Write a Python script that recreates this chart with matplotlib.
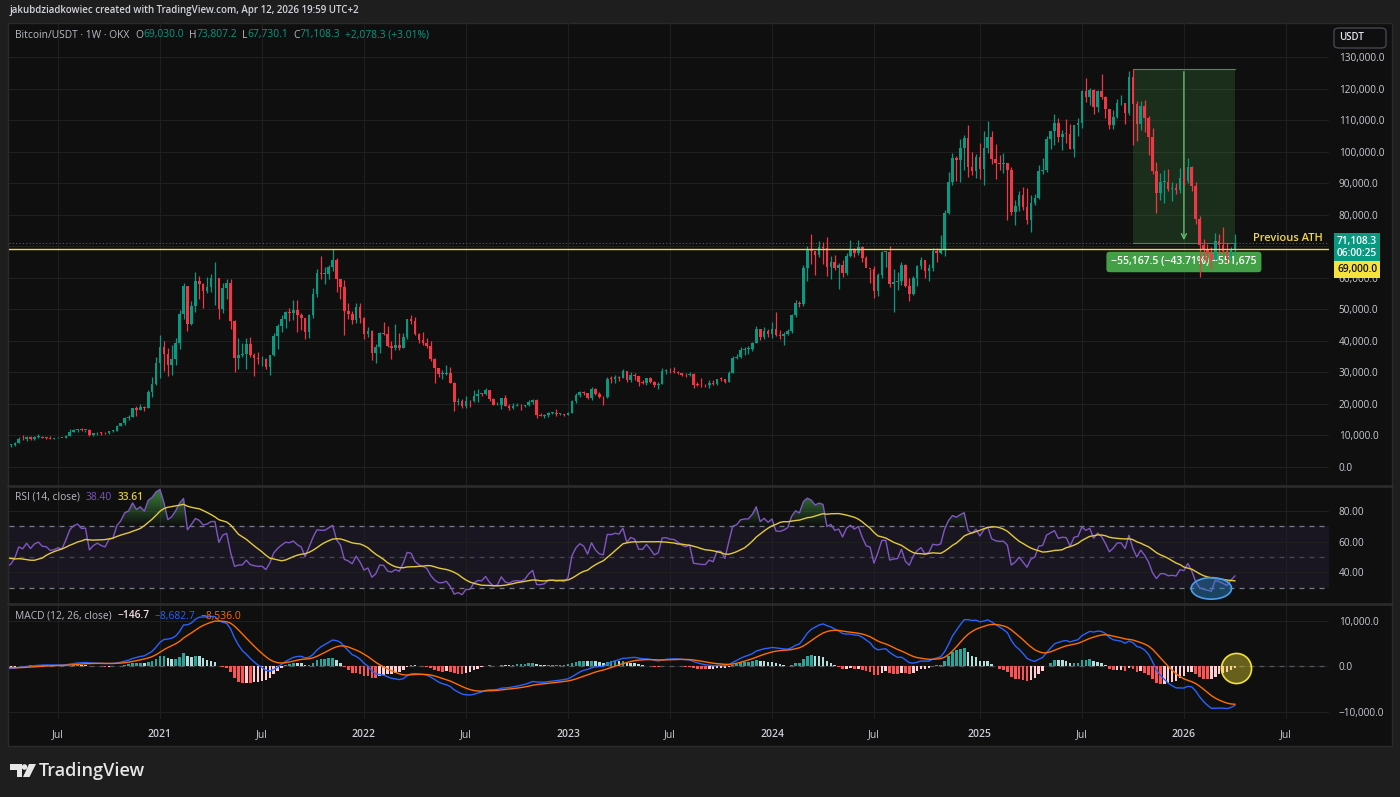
import numpy as np
import pandas as pd
import matplotlib
matplotlib.use("Agg")
import matplotlib.pyplot as plt
import matplotlib.dates as mdates
from matplotlib.patches import Rectangle, FancyBboxPatch, Ellipse, Polygon
from matplotlib.lines import Line2D
from matplotlib.path import Path

plt.rcParams["font.family"] = ["Open Sans", "DejaVu Sans"]

W, H = 1400, 797

# ── Weekly BTC/USDT candles (OKX), prices in thousands of USDT ────────────────
first_week = "2020-04-06"
first_open_k = 6.77

close_2020 = [6.91, 7.12, 7.70, 8.90, 8.72, 9.38, 8.91, 9.45, 9.67, 9.33, 9.30, 9.01, 9.07,
              9.24, 9.16, 9.94, 11.10, 11.68, 11.91, 11.65, 11.70, 10.25, 10.68, 10.93, 10.77,
              10.67, 11.38, 11.50, 13.03, 13.80, 15.48, 15.98, 18.70, 18.18, 19.15, 18.80,
              23.86, 26.25, 33.00]
high_2020 = [7.47, 7.30, 7.78, 9.46, 10.07, 9.93, 9.84, 9.74, 10.43, 9.98, 9.58, 9.80, 9.30,
             9.48, 9.35, 10.05, 12.13, 11.90, 12.10, 12.47, 11.80, 12.09, 10.80, 11.18, 10.95,
             10.95, 11.50, 11.72, 13.35, 14.10, 15.97, 16.48, 18.83, 19.48, 19.92, 19.43,
             24.30, 28.40, 34.80]
low_2020 = [6.77, 6.46, 6.77, 7.66, 8.53, 8.20, 8.63, 8.63, 9.27, 9.20, 9.00, 8.83, 8.89,
            9.05, 9.04, 9.15, 9.92, 11.00, 11.10, 11.38, 11.10, 9.88, 9.88, 10.20, 10.14,
            10.45, 10.52, 11.23, 11.40, 12.90, 13.20, 14.83, 15.96, 16.20, 18.20, 17.60,
            18.80, 22.30, 26.00]

close_2021 = [38.15, 35.83, 32.27, 34.28, 39.25, 48.58, 57.40, 45.20, 50.97, 59.00, 58.10, 55.85,
              57.05, 59.80, 60.00, 50.00, 56.60, 58.25, 46.40, 34.70, 35.65, 35.80, 39.10, 35.50,
              34.70, 34.10, 34.25, 31.80, 35.40, 41.50, 44.60, 47.00, 49.00, 48.80, 49.90, 48.30,
              47.30, 42.80, 48.20, 54.90, 61.50, 61.30, 61.30, 63.30, 65.50, 59.70, 57.20, 49.40,
              48.40, 46.70, 50.80, 47.30]
high_2021 = [41.95, 40.10, 37.85, 38.55, 40.95, 49.70, 58.35, 57.53, 52.65, 61.80, 60.60, 58.40,
             60.20, 61.20, 64.85, 57.45, 58.45, 59.60, 59.60, 46.65, 40.80, 39.45, 40.90, 41.30,
             36.00, 36.60, 35.10, 34.65, 35.40, 42.60, 45.30, 48.15, 49.40, 50.50, 52.90, 52.80,
             48.84, 47.30, 48.40, 56.60, 62.90, 67.00, 63.30, 64.20, 69.00, 66.40, 59.50, 59.20,
             51.95, 49.50, 51.90, 52.10]
low_2021 = [28.13, 30.42, 28.85, 29.25, 32.30, 37.40, 47.00, 43.00, 45.00, 49.30, 53.30, 50.40,
            55.15, 55.50, 51.50, 47.00, 48.80, 53.20, 43.80, 30.00, 31.20, 34.80, 31.00, 34.80,
            28.80, 32.70, 32.10, 31.05, 29.30, 35.25, 37.33, 42.80, 43.98, 46.40, 46.50, 42.80,
            43.40, 40.55, 41.00, 47.20, 53.90, 59.50, 58.00, 59.50, 62.30, 55.60, 53.30, 42.00,
            46.80, 45.50, 45.55, 45.70]

close_2022 = [42.05, 43.10, 36.28, 37.90, 42.40, 42.20, 38.40, 37.70, 38.80, 37.80, 41.30, 46.80,
              46.40, 42.15, 40.40, 39.45, 38.45, 34.30, 31.30, 29.45, 29.45, 29.90, 26.60, 20.55,
              21.00, 19.30, 20.85, 20.80, 22.58, 23.30, 23.17, 24.30, 21.50, 19.55, 19.80, 21.80,
              19.40, 18.80, 19.30, 19.40, 19.20, 19.57, 20.63, 21.30, 16.33, 16.28, 16.45, 17.10,
              17.10, 16.78, 16.84, 16.61]
high_2022 = [47.55, 44.45, 43.50, 38.90, 42.65, 45.85, 44.75, 39.85, 45.40, 42.60, 42.35, 46.90,
             48.20, 47.50, 42.45, 42.95, 40.80, 40.00, 34.45, 31.35, 30.60, 32.40, 31.70, 26.90,
             21.85, 21.50, 22.50, 21.30, 24.28, 24.67, 23.60, 25.20, 24.45, 21.80, 20.55, 21.86,
             22.80, 19.95, 20.40, 20.45, 19.95, 19.70, 21.10, 21.45, 21.47, 17.20, 16.80, 17.40,
             17.40, 18.40, 17.00, 16.95]
low_2022 = [40.50, 41.25, 34.00, 32.90, 36.25, 41.70, 38.00, 34.30, 37.20, 37.15, 37.60, 40.50,
            45.20, 42.00, 39.20, 38.60, 37.70, 33.70, 26.70, 28.65, 28.00, 29.30, 26.50, 17.60,
            19.60, 18.60, 18.75, 18.90, 20.75, 20.70, 22.40, 22.70, 20.80, 19.55, 19.60, 18.50,
            19.30, 18.15, 18.50, 19.20, 18.20, 18.95, 19.25, 20.05, 15.60, 16.25, 15.50, 16.00,
            16.90, 16.30, 16.57, 16.30]

close_2023 = [17.13, 20.88, 22.70, 23.75, 23.33, 21.80, 24.60, 23.15, 22.30, 22.10, 28.00, 27.95,
              28.45, 28.30, 30.30, 27.60, 29.25, 28.90, 26.80, 26.75, 28.10, 27.10, 25.90, 26.35,
              30.46, 30.58, 30.30, 30.25, 29.80, 29.30, 29.05, 29.40, 26.10, 26.00, 25.87, 25.85,
              26.53, 26.25, 27.95, 27.90, 26.85, 29.95, 34.50, 35.00, 37.05, 37.35, 37.45, 39.45,
              43.80, 41.35, 43.00, 42.30]
high_2023 = [17.40, 21.26, 23.37, 23.95, 24.25, 23.45, 25.25, 25.02, 23.88, 22.60, 28.40, 28.89,
             29.20, 28.75, 31.00, 30.50, 30.00, 29.80, 28.90, 27.60, 28.25, 28.45, 27.30, 26.80,
             31.40, 31.00, 31.40, 31.80, 30.35, 29.95, 29.70, 30.20, 29.70, 26.80, 28.15, 26.30,
             27.50, 27.45, 28.00, 28.60, 27.80, 30.40, 35.25, 35.90, 37.95, 37.95, 38.40, 39.55,
             44.70, 43.40, 44.30, 43.60]
low_2023 = [16.50, 17.10, 20.40, 22.30, 22.70, 21.45, 21.40, 22.80, 21.95, 19.57, 21.90, 26.60,
            26.50, 27.20, 28.10, 27.10, 26.95, 27.70, 25.80, 26.35, 26.10, 26.60, 25.35, 24.80,
            26.25, 29.50, 29.90, 29.95, 29.55, 28.90, 28.60, 28.70, 25.20, 25.80, 25.35, 25.40,
            24.90, 26.00, 26.00, 27.20, 26.55, 26.80, 29.90, 34.10, 34.70, 35.60, 35.75, 36.90,
            39.45, 40.20, 40.50, 41.30]

close_2024 = [43.90, 41.70, 41.60, 42.10, 43.00, 48.30, 52.10, 51.70, 63.10, 68.90, 68.40, 67.20,
              69.65, 69.35, 63.40, 64.90, 63.10, 63.90, 61.50, 66.90, 69.00, 67.80, 69.60, 66.20,
              63.20, 62.70, 55.80, 60.80, 68.20, 68.25, 58.10, 58.70, 58.90, 64.20, 57.30, 54.80,
              60.00, 63.60, 65.60, 62.10, 63.00, 68.40, 68.00, 68.70, 80.40, 90.50, 98.00, 97.20,
              101.10, 104.30, 95.20, 93.70, 98.30]
high_2024 = [45.90, 49.00, 43.55, 42.80, 43.85, 48.60, 52.80, 52.55, 64.00, 70.00, 73.80, 68.10,
             71.75, 71.30, 72.80, 66.90, 67.10, 64.70, 65.50, 67.70, 71.95, 69.50, 71.95, 70.20,
             66.95, 62.90, 63.85, 61.40, 68.50, 68.60, 70.00, 62.70, 61.80, 65.00, 64.50, 59.80,
             60.60, 64.10, 66.45, 65.00, 64.40, 69.40, 69.50, 73.60, 81.50, 93.45, 99.60, 98.70,
             104.00, 105.20, 108.30, 99.95, 99.10]
low_2024 = [40.75, 41.50, 40.65, 38.55, 41.90, 42.55, 47.70, 50.60, 50.90, 59.00, 64.50, 60.75,
            66.50, 64.50, 60.65, 59.60, 62.40, 56.50, 60.20, 60.75, 66.60, 66.60, 67.30, 65.10,
            63.40, 58.40, 53.50, 54.30, 59.90, 63.50, 57.20, 49.00, 56.10, 57.80, 57.20, 52.55,
            54.60, 57.50, 62.70, 59.80, 58.90, 62.30, 65.00, 67.50, 66.80, 80.20, 89.40, 90.80,
            90.50, 94.20, 92.10, 92.50, 91.50]

close_2025 = [94.50, 101.30, 104.70, 97.70, 96.50, 96.10, 96.30, 94.20, 80.70, 82.60, 86.10, 82.40,
              78.40, 83.80, 85.20, 93.70, 94.30, 104.10, 106.50, 109.00, 104.60, 105.70, 105.50,
              100.90, 108.40, 109.20, 119.10, 117.30, 119.50, 114.20, 119.30, 117.40, 113.50,
              108.30, 111.10, 115.30, 115.30, 112.20, 123.50, 115.10, 108.60, 114.50, 110.50,
              104.70, 94.00, 86.80, 90.40, 90.40, 88.20, 88.50, 87.80, 91.50]
high_2025 = [102.70, 106.40, 109.60, 106.40, 102.50, 98.80, 99.50, 96.50, 95.00, 84.70, 87.50, 88.75,
             88.50, 86.10, 86.45, 95.75, 97.90, 104.95, 106.65, 111.90, 110.70, 106.80, 110.40,
             108.90, 108.50, 110.50, 119.50, 123.20, 120.20, 120.00, 119.50, 124.50, 117.60,
             113.40, 113.30, 116.70, 117.90, 115.30, 125.70, 126.20, 115.90, 116.00, 116.40,
             111.20, 107.50, 96.60, 93.10, 94.10, 94.60, 90.30, 90.00, 94.80]
low_2025 = [91.20, 89.30, 99.50, 96.10, 91.20, 94.10, 93.30, 78.20, 80.00, 76.60, 81.15, 81.60,
            77.15, 74.50, 83.10, 85.10, 92.80, 93.40, 100.80, 102.10, 103.10, 100.40, 102.65,
            100.85, 98.20, 105.10, 107.50, 115.75, 114.70, 111.90, 112.65, 116.80, 110.70,
            107.30, 107.30, 110.60, 114.70, 108.60, 111.60, 102.00, 103.50, 107.00, 106.30,
            98.90, 93.00, 80.60, 84.70, 83.80, 87.60, 84.40, 86.50, 86.90]

close_2026 = [90.80, 95.00, 89.00, 78.50, 70.50, 68.80, 67.50, 66.00, 71.80, 70.50, 68.50, 66.50,
              69.03, 71.1083]
high_2026 = [94.80, 97.90, 95.50, 90.50, 79.50, 72.20, 70.80, 69.80, 74.20, 73.80, 76.00, 71.00,
             69.80, 73.8072]
low_2026 = [89.30, 90.00, 87.50, 77.00, 60.10, 65.60, 65.00, 62.80, 65.50, 68.00, 67.50, 64.80,
            65.60, 67.7301]

# weekly closes before the visible range, only used to warm up RSI / MACD
warmup_close_2019 = [3.60, 3.55, 3.55, 3.42, 3.68, 3.62, 3.85, 3.87, 3.95, 4.02, 4.00, 4.14, 5.05,
                     5.07, 5.30, 5.25, 5.75, 7.25, 8.15, 8.75, 8.55, 7.95, 8.85, 10.85, 10.80,
                     11.45, 10.20, 10.55, 9.50, 10.80, 11.30, 10.30, 10.15, 9.60, 10.40, 10.30,
                     10.00, 8.20, 7.85, 8.30, 7.95, 9.25, 9.20, 8.80, 8.50, 7.30, 7.55, 7.50,
                     7.10, 7.25, 7.30, 7.35]
warmup_close_2020 = [8.20, 8.65, 8.60, 9.35, 10.15, 9.90, 9.65, 8.55, 8.05, 5.35, 5.80, 6.25, 6.77]

# drawing on the chart
prev_ath = 69000.0
measure_from = 126200.0
measure_to = 71032.5
measure_start = "2025-10-06"
measure_end = "2026-04-06"
ellipse_center = ("2026-02-23", 29.5)

# ── Colours ──────────────────────────────────────────────────────────────────
BG_OUT = "#1e1e1e"
BG = "#0f0f0f"
GRID = "#1f1f1f"
TXT = "#c9ccd3"
UP = "#089981"
DN = "#f23645"
YEL = "#f0d84a"

close = np.array(close_2020 + close_2021 + close_2022 + close_2023 + close_2024
                 + close_2025 + close_2026) * 1000
high = np.array(high_2020 + high_2021 + high_2022 + high_2023 + high_2024
                + high_2025 + high_2026) * 1000
low = np.array(low_2020 + low_2021 + low_2022 + low_2023 + low_2024
               + low_2025 + low_2026) * 1000
# crypto trades 24/7: each weekly open is the prior weekly close
opn = np.r_[first_open_k * 1000, close[:-1]]
dates = pd.date_range(first_week, periods=len(close), freq="7D")
xd = mdates.date2num(dates)
n = len(close)

# ── Indicators (same definitions TradingView uses) ───────────────────────────
full = pd.Series(np.r_[np.array(warmup_close_2019 + warmup_close_2020) * 1000, close])
delta = full.diff()
gain = delta.clip(lower=0).ewm(alpha=1 / 14, adjust=False).mean()
loss = (-delta.clip(upper=0)).ewm(alpha=1 / 14, adjust=False).mean()
rsi_full = 100 - 100 / (1 + gain / loss)
rsi_ma_full = rsi_full.rolling(14).mean()
macd_full = full.ewm(span=12, adjust=False).mean() - full.ewm(span=26, adjust=False).mean()
sig_full = macd_full.ewm(span=9, adjust=False).mean()
rsi = rsi_full.values[-n:]
rsi_ma = rsi_ma_full.values[-n:]
macd = macd_full.values[-n:]
sig = sig_full.values[-n:]
hist = macd - sig


def fx(px):
    return px / W


def fy(py):
    return 1 - py / H


fig = plt.figure(figsize=(W / 100, H / 100), dpi=100)
fig.patch.set_facecolor(BG_OUT)
fig.add_artist(Rectangle((fx(8), fy(746)), (1392 - 8) / W, (746 - 23) / H,
                         transform=fig.transFigure, facecolor=BG, edgecolor="#2a2a2a",
                         lw=1, zorder=-10))

L, R = 9, 1329
ax_p = fig.add_axes([fx(L), fy(485), (R - L) / W, (485 - 23) / H])
ax_r = fig.add_axes([fx(L), fy(603), (R - L) / W, (603 - 487) / H])
ax_m = fig.add_axes([fx(L), fy(719), (R - L) / W, (719 - 605) / H])

for y in (485.5, 603.5):
    fig.add_artist(Line2D([fx(8), fx(1392)], [fy(y), fy(y)], transform=fig.transFigure,
                          color="#2a2a2a", lw=2))

# x scale: TradingView bar spacing, Jul-2020 bar at px 58, 3.923 px per week
ref = mdates.date2num(pd.Timestamp("2020-07-06"))
ppd = 3.923 / 7
xlim = (ref - (58 - L) / ppd, ref + (R - 58) / ppd)

future = pd.date_range(first_week, "2026-09-30", freq="7D")
tick_weeks = [d for d in future if d.month in (1, 7) and d.day <= 7]
tick_x = mdates.date2num(tick_weeks)
tick_lab = ["Jul" if d.month == 7 else str(d.year) for d in tick_weeks]

for ax in (ax_p, ax_r, ax_m):
    ax.set_facecolor("none")
    for s in ax.spines.values():
        s.set_visible(False)
    ax.set_xticks(tick_x)
    ax.xaxis.grid(True, color=GRID, lw=0.8)
    ax.yaxis.grid(True, color=GRID, lw=0.8)
    ax.set_axisbelow(True)
    ax.yaxis.tick_right()
    ax.tick_params(axis="y", length=0, pad=7, labelsize=7.2, labelcolor=TXT)
    ax.tick_params(axis="x", length=0, labelbottom=False)

# ── Price panel ──────────────────────────────────────────────────────────────
up = close >= opn
cols = np.where(up, UP, DN)
body_lo = np.minimum(opn, close)
body_h = np.maximum(np.abs(close - opn), 250)
ax_p.vlines(xd, low, high, colors=cols, lw=0.9, zorder=3)
ax_p.bar(xd, body_h, bottom=body_lo, width=4.6, color=cols, lw=0, zorder=4)

ax_p.axhline(prev_ath, color=YEL, lw=1.0, zorder=5)
ax_p.axhline(close[-1], color=UP, lw=0.8, ls=(0, (1, 2)), alpha=0.8, zorder=2)

ms, me = mdates.date2num(pd.Timestamp(measure_start)), mdates.date2num(pd.Timestamp(measure_end))
xm = (ms + me) / 2
ax_p.add_patch(Rectangle((ms, measure_to), me - ms, measure_from - measure_to,
                         facecolor="#4caf50", alpha=0.2, lw=0, zorder=1))
ax_p.plot([ms, me], [measure_from, measure_from], color="#4caf50", lw=0.8, alpha=0.8, zorder=1)
ax_p.plot([ms, me], [measure_to, measure_to], color="#4caf50", lw=0.8, alpha=0.8, zorder=1)
ax_p.annotate("", xy=(xm, measure_to), xytext=(xm, measure_from),
              arrowprops=dict(arrowstyle="->", color="#66bb6a", lw=1.0, mutation_scale=9),
              zorder=2)
chg = measure_to - measure_from
lab = f"{chg:,.1f} ({chg / measure_from * 100:.2f}%) {round(chg / 0.1):,}".replace("-", "−")
ax_p.annotate(lab, xy=(xm, measure_to), xytext=(0, -19), textcoords="offset pixels",
              ha="center", va="center", color="white", fontsize=7.6, fontweight="semibold",
              bbox=dict(boxstyle="round,pad=0.45,rounding_size=0.3", fc="#43a047", ec="none"),
              zorder=2)

ax_p.annotate("Previous ATH", xy=((1323 - L) / (R - L), prev_ath), xycoords=("axes fraction", "data"),
              xytext=(0, 5), textcoords="offset pixels", ha="right", va="bottom",
              color=YEL, fontsize=8, fontweight="semibold", zorder=6)

ax_p.set_xlim(xlim)
ax_p.set_ylim(-5707, 140780)
price_ticks = np.arange(0, 130001, 10000)
ax_p.set_yticks(price_ticks)
# the 70,000 label sits under the live-price tag, as on the screen
ax_p.set_yticklabels(["" if v == 70000 else f"{v:,.1f}" for v in price_ticks])

ax_p.annotate(f"{close[-1]:,.1f}\n06:00:25", xy=(1.0, close[-1]), xycoords=("axes fraction", "data"),
              xytext=(8, 7), textcoords="offset pixels", ha="left", va="top", color="white",
              fontsize=7.3, fontweight="semibold", linespacing=1.1, annotation_clip=False,
              bbox=dict(boxstyle="square,pad=0.3", fc=UP, ec="none"), zorder=10)
ax_p.annotate(f"{prev_ath:,.1f}", xy=(1.0, prev_ath), xycoords=("axes fraction", "data"),
              xytext=(8, -20), textcoords="offset pixels", ha="left", va="center", color="#111111",
              fontsize=7.3, fontweight="semibold", annotation_clip=False,
              bbox=dict(boxstyle="square,pad=0.3", fc="#f5e23c", ec="none"), zorder=10)

# ── RSI panel ────────────────────────────────────────────────────────────────
ax_r.axhspan(30, 70, color="#7e57c2", alpha=0.1, lw=0, zorder=0)
ax_r.axhline(70, color="#787b86", lw=0.9, ls=(0, (4, 4)), zorder=1)
ax_r.axhline(50, color="#787b86", lw=0.9, ls=(0, (4, 4)), alpha=0.5, zorder=1)
ax_r.axhline(30, color="#787b86", lw=0.9, ls=(0, (4, 4)), zorder=1)


def gradient_fill(ax, base, above, rgb, y0, y1):
    mask = rsi > base if above else rsi < base
    coll = ax.fill_between(xd, base, rsi, where=mask, interpolate=True,
                           facecolor="none", edgecolor="none")
    paths = coll.get_paths()
    if not paths:
        return
    clip = Path.make_compound_path(*paths)
    k = 64
    img = np.zeros((k, 1, 4))
    img[..., :3] = rgb
    img[:, 0, 3] = np.linspace(0.0, 0.9, k) if above else np.linspace(0.9, 0.0, k)
    im = ax.imshow(img, extent=[xd[0], xd[-1], y0, y1], origin="lower", aspect="auto",
                   interpolation="bilinear", zorder=2)
    im.set_clip_path(clip, ax.transData)


gradient_fill(ax_r, 70, True, (0.30, 0.69, 0.31), 70, 100)
gradient_fill(ax_r, 30, False, (0.95, 0.21, 0.27), 0, 30)
ax_r.plot(xd, rsi, color="#7e57c2", lw=1.0, zorder=3)
ax_r.plot(xd, rsi_ma, color="#e3c93c", lw=1.0, zorder=4)
ec_x = mdates.date2num(pd.Timestamp(ellipse_center[0]))
ax_r.add_patch(Ellipse((ec_x, ellipse_center[1]), 72, 14, facecolor=(0.16, 0.52, 0.78, 0.45),
                       edgecolor="#4a9eea", lw=1.2, zorder=5))
ax_r.set_xlim(xlim)
ax_r.set_ylim(20.0, 95.5)
ax_r.set_yticks([40, 60, 80])
ax_r.yaxis.set_major_formatter(lambda v, _: f"{v:.2f}")

# ── MACD panel ───────────────────────────────────────────────────────────────
prev = np.r_[hist[0], hist[:-1]]
hcols = np.where(hist >= 0, np.where(prev < hist, "#26a69a", "#b2dfdb"),
                 np.where(prev < hist, "#ffcdd2", "#ff5252"))
ax_m.axhline(0, color="#787b86", lw=0.9, ls=(0, (4, 4)), alpha=0.6, zorder=1)
ax_m.bar(xd, hist, width=4.6, color=hcols, lw=0, zorder=2)
ax_m.plot(xd, macd, color="#2962ff", lw=1.0, zorder=3)
ax_m.plot(xd, sig, color="#ff6d00", lw=1.0, zorder=4)
ax_m.scatter([xd[-1] + 2], [hist[-1]], s=470, facecolor=(0.93, 0.86, 0.2, 0.4),
             edgecolor="#f2e03c", lw=1.2, zorder=5)
ax_m.set_xlim(xlim)
ax_m.set_ylim(-11648, 13626)
ax_m.set_yticks([-10000, 0, 10000])
ax_m.yaxis.set_major_formatter(lambda v, _: f"{v:,.1f}".replace("-", "−"))
ax_m.tick_params(axis="x", labelbottom=True, pad=7, labelsize=7.5, labelcolor=TXT)
ax_m.set_xticklabels(tick_lab)
for t, s in zip(ax_m.get_xticklabels(), tick_lab):
    if s != "Jul":
        t.set_fontweight("semibold")

# ── Texts ────────────────────────────────────────────────────────────────────
renderer = fig.canvas.get_renderer()


def text_run(x_px, y_px, pieces, size):
    x = x_px
    for s, col, weight, gap in pieces:
        t = fig.text(fx(x), fy(y_px), s, color=col, fontsize=size, fontweight=weight,
                     ha="left", va="center")
        x += t.get_window_extent(renderer=renderer).width + gap


fig.text(fx(10), fy(11), "jakubdziadkowiec created with TradingView.com, Apr 12, 2026 19:59 UTC+2",
         color="#d1d4dc", fontsize=7.0, fontweight="semibold", ha="left", va="center")

lab_c = "#b8bbc2"
ch = close[-1] - opn[-1]
text_run(15, 35, [
    ("Bitcoin/USDT · 1W · OKX", lab_c, "normal", 6),
    ("O", lab_c, "normal", 0), (f"{opn[-1]:,.1f}", UP, "normal", 5),
    ("H", lab_c, "normal", 0), (f"{high[-1]:,.1f}", UP, "normal", 5),
    ("L", lab_c, "normal", 0), (f"{low[-1]:,.1f}", UP, "normal", 5),
    ("C", lab_c, "normal", 0), (f"{close[-1]:,.1f}", UP, "normal", 5),
    (f"+{ch:,.1f} (+{ch / opn[-1] * 100:.2f}%)", UP, "normal", 0),
], 7.4)

text_run(15, 497, [
    ("RSI (14, close)", lab_c, "normal", 6),
    ("38.40", "#7e57c2", "normal", 5),
    ("33.61", "#e3c93c", "semibold", 0),
], 7.4)

text_run(15, 616, [
    ("MACD (12, 26, close)", lab_c, "normal", 6),
    ("−146.7", "#f3dfe2", "semibold", 5),
    ("−8,682.7", "#2962ff", "normal", 5),
    ("−8,536.0", "#ff6d00", "normal", 0),
], 7.4)

# USDT currency box
fig.add_artist(FancyBboxPatch((fx(1334), fy(48)), (1386 - 1334) / W, (48 - 28) / H,
                              boxstyle="round,pad=0,rounding_size=0.004",
                              transform=fig.transFigure, facecolor=BG, edgecolor="#434651", lw=1))
fig.text(fx(1352), fy(38), "USDT", color="#e0e3eb", fontsize=7, fontweight="semibold",
         ha="center", va="center")

# TradingView logo
def px_poly(pts, **kw):
    return Polygon([(fx(a), fy(b)) for a, b in pts], closed=True, transform=fig.transFigure, **kw)


logo_c = "#e6e6e6"
fig.add_artist(px_poly([(10, 764), (22, 764), (22, 777), (16.5, 777), (16.5, 770), (10, 770)],
                       facecolor=logo_c, lw=0))
fig.add_artist(Ellipse((fx(24.5), fy(767)), 5.6 / W, 5.6 / H, transform=fig.transFigure,
                       facecolor=logo_c, lw=0))
fig.add_artist(px_poly([(29, 764), (36, 764), (29.5, 777), (23, 777)], facecolor=logo_c, lw=0))
fig.text(fx(39), fy(771), "TradingView", color=logo_c, fontsize=13, fontweight="semibold",
         ha="left", va="center")

fig.savefig("out.png", dpi=100, facecolor=fig.get_facecolor())
